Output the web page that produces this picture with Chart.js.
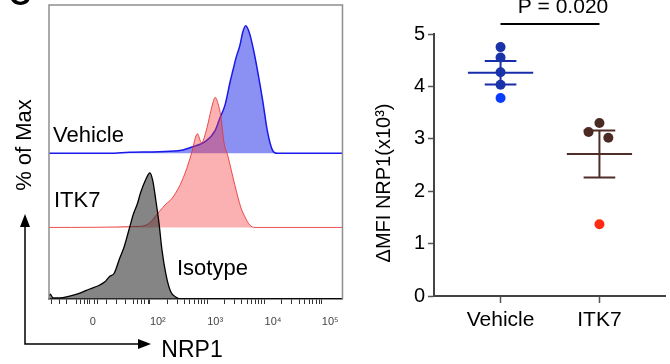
<!DOCTYPE html>
<html>
<head>
<meta charset="utf-8">
<script src="https://cdn.jsdelivr.net/npm/chart.js@4.4.1/dist/chart.umd.min.js"></script>
<style>
    html, body { margin: 0; padding: 0; background: #fff; }
    #wrap { position: relative; width: 670px; height: 364px; overflow: hidden; }
    #histChart { position: absolute; left: 0; top: 0; }
    #dotChart { position: absolute; left: 350px; top: 0; }
</style>
</head>
<body>
<div id="wrap">
    <canvas id="histChart" width="350" height="364"></canvas>
    <canvas id="dotChart" width="320" height="364"></canvas>
</div>
<script>
// HISTOGRAMS (x = NRP1 in decades on the biex axis, y = % of max)
const vehicleHistX = [0.24, 1.30, 1.64, 2.16, 2.55, 2.72, 2.97, 3.14, 3.22, 3.31, 3.40, 3.45, 3.50, 3.57, 3.62, 3.67, 3.74, 3.81, 3.88, 3.97, 4.05, 4.14, 4.22, 5.36];
const vehicleHistY = [0, 0, 0.8, 1.2, 2.3, 4.6, 9.2, 17.7, 27, 37, 55, 64, 73, 83, 93, 98, 92, 79, 63, 40, 17, 2.3, 0, 0];

const itk7HistX = [0.24, 1.81, 1.98, 2.16, 2.28, 2.38, 2.53, 2.64, 2.72, 2.83, 2.90, 2.98, 3.05, 3.10, 3.14, 3.19, 3.24, 3.29, 3.36, 3.48, 3.59, 3.66, 3.74, 3.83, 5.36];
const itk7HistY = [0, 0.8, 3, 12, 18, 22, 33, 45, 56, 72, 65, 74, 87, 96, 100, 95, 85, 66, 55, 33, 15, 8, 2, 0, 0];

const isotypeHistX = [0.24, 0.26, 0.31, 0.43, 0.60, 0.78, 0.95, 1.09, 1.21, 1.29, 1.38, 1.47, 1.55, 1.64, 1.71, 1.78, 1.84, 1.93, 2.00, 2.05, 2.10, 2.16, 2.21, 2.28, 2.36, 2.45, 2.53, 5.36];
const isotypeHistY = [2.3, 3.8, 0.8, 0.8, 2.3, 4.6, 7.7, 10, 13, 17, 20, 31, 40, 54, 65, 73, 82, 92, 97, 91, 77, 58, 38, 19, 6, 1.5, 0, 0];

// vertical offsets of the stacked histograms
const isotypeOffset = 0;
const itk7Offset = 55;
const vehicleOffset = 112;

// x axis ticks of the histogram
const majorTickVals = [0.95, 2, 3, 4, 5];
const majorTickLabels = ['0', '10²', '10³', '10⁴', '10⁵'];
const lowMinorTicks = [0.29, 0.43, 0.55, 0.72, 0.79, 0.86, 0.91, 1.03, 1.09, 1.24, 1.41, 1.57, 1.71, 1.79, 1.86, 1.91, 1.97];

// DOT PLOT (ΔMFI NRP1 x10^3)
const groups = ['Vehicle', 'ITK7'];
const vehicleValues = [4.75, 4.55, 4.27, 4.03, 3.78];
const itk7Values = [3.30, 3.13, 3.02, 1.37];
const itk7Jitter = [0, -0.11, 0.09, 0];
const groupMeans = [4.26, 2.71];
const groupSems = [0.225, 0.45];
const yTicks = [0, 1, 2, 3, 4, 5];
const pValueText = 'P = 0.020';

Chart.defaults.font.family = '"Liberation Sans", Arial, Helvetica, sans-serif';
Chart.defaults.color = '#111';

// ---------- LEFT: histogram overlay ----------

const minorTicks = [];
for (let d = 2; d < 5; d++) {
    for (let k = 2; k <= 9; k++) {
        minorTicks.push(d + Math.log10(k));
    }
}
const allTicks = lowMinorTicks.concat(minorTicks, majorTickVals).sort((a, b) => a - b);

function histDataset(xs, ys, offset, line, fillColor, width) {
    return {
        data: xs.map((x, i) => ({ x: x, y: ys[i] + offset })),
        borderColor: line,
        backgroundColor: fillColor,
        borderWidth: width,
        fill: { value: offset },
        pointRadius: 0,
        cubicInterpolationMode: 'monotone',
    };
}

const histDecor = {
    id: 'histDecor',
    afterDraw(chart) {
        const { ctx, chartArea: a } = chart;
        ctx.save();

        // frame
        ctx.strokeStyle = '#8e8e8e';
        ctx.lineWidth = 1.5;
        ctx.beginPath();
        ctx.moveTo(a.left, a.bottom);
        ctx.lineTo(a.left, a.top);
        ctx.lineTo(a.right, a.top);
        ctx.lineTo(a.right, a.bottom);
        ctx.stroke();

        // sample labels
        ctx.fillStyle = '#000';
        ctx.font = '22px "Liberation Sans", Arial, sans-serif';
        ctx.textBaseline = 'alphabetic';
        ctx.textAlign = 'left';
        ctx.fillText('Vehicle', 53, 142);
        ctx.fillText('ITK7', 54, 207);
        ctx.fillText('Isotype', 177, 275);

        // panel letter, cut by the top edge
        ctx.font = 'bold 30px "Liberation Sans", Arial, sans-serif';
        ctx.fillText('C', 9, 5);

        // axis arrows
        ctx.strokeStyle = '#000';
        ctx.lineWidth = 1.5;
        ctx.beginPath();
        ctx.moveTo(25, 226);
        ctx.lineTo(25, 344);
        ctx.lineTo(140, 344);
        ctx.stroke();
        ctx.beginPath();
        ctx.moveTo(25, 214);
        ctx.lineTo(20, 227);
        ctx.lineTo(30, 227);
        ctx.closePath();
        ctx.moveTo(151, 344);
        ctx.lineTo(138, 339);
        ctx.lineTo(138, 349);
        ctx.closePath();
        ctx.fill();

        ctx.font = '23px "Liberation Sans", Arial, sans-serif';
        ctx.textAlign = 'center';
        ctx.fillText('NRP1', 192, 357);

        ctx.translate(25, 145);
        ctx.rotate(-Math.PI / 2);
        ctx.font = '22px "Liberation Sans", Arial, sans-serif';
        ctx.textBaseline = 'middle';
        ctx.fillText('% of Max', 0, 0);
        ctx.restore();
    }
};

new Chart(document.getElementById('histChart'), {
    type: 'line',
    data: {
        datasets: [
            histDataset(isotypeHistX, isotypeHistY, isotypeOffset, '#000', 'rgba(45,45,45,0.58)', 1.3),
            histDataset(itk7HistX, itk7HistY, itk7Offset, 'rgba(232,50,50,0.85)', 'rgba(245,60,60,0.4)', 1),
            histDataset(vehicleHistX, vehicleHistY, vehicleOffset, 'rgb(25,25,235)', 'rgba(55,65,235,0.58)', 1.5),
        ]
    },
    options: {
        responsive: false,
        animation: false,
        layout: { padding: { left: 49, top: 5, right: 5, bottom: 0 } },
        plugins: { legend: { display: false }, tooltip: { enabled: false } },
        scales: {
            x: {
                type: 'linear',
                bounds: 'data',
                min: 0.24,
                max: 5.36,
                afterBuildTicks: (scale) => {
                    scale.ticks = allTicks.map(v => ({ value: v }));
                },
                afterFit: (scale) => { scale.height = 65; },
                ticks: {
                    autoSkip: false,
                    maxRotation: 0,
                    align: 'start',
                    padding: 11,
                    color: '#444',
                    font: { size: 11 },
                    callback: (value) => {
                        const i = majorTickVals.indexOf(value);
                        return i >= 0 ? majorTickLabels[i] : '';
                    },
                },
                grid: { drawOnChartArea: false, drawTicks: true, tickLength: 5, tickColor: '#333', tickWidth: 1 },
                border: { display: true, color: '#222', width: 1.5 },
            },
            y: {
                display: false,
                min: 0,
                max: 226,
            },
        },
    },
    plugins: [histDecor],
});

// ---------- RIGHT: dot plot with mean ± SEM ----------

const barColors = ['rgb(25,45,170)', 'rgb(80,45,40)'];

const errorBars = {
    id: 'errorBars',
    beforeDatasetsDraw(chart) {
        const { ctx, scales: { x, y } } = chart;
        ctx.save();
        ctx.lineWidth = 2;
        groupMeans.forEach((m, i) => {
            const cx = i + 1;
            const s = groupSems[i];
            ctx.strokeStyle = barColors[i];
            ctx.beginPath();
            ctx.moveTo(x.getPixelForValue(cx - 0.33), y.getPixelForValue(m));
            ctx.lineTo(x.getPixelForValue(cx + 0.33), y.getPixelForValue(m));
            [m - s, m + s].forEach(v => {
                ctx.moveTo(x.getPixelForValue(cx - 0.16), y.getPixelForValue(v));
                ctx.lineTo(x.getPixelForValue(cx + 0.16), y.getPixelForValue(v));
            });
            ctx.moveTo(x.getPixelForValue(cx), y.getPixelForValue(m - s));
            ctx.lineTo(x.getPixelForValue(cx), y.getPixelForValue(m + s));
            ctx.stroke();
        });
        ctx.restore();
    },
    afterDraw(chart) {
        const { ctx, chartArea: a, scales: { x } } = chart;
        ctx.save();

        // significance bar
        const x1 = x.getPixelForValue(1);
        const x2 = x.getPixelForValue(2);
        ctx.strokeStyle = '#000';
        ctx.lineWidth = 2;
        ctx.beginPath();
        ctx.moveTo(x1, a.top - 10);
        ctx.lineTo(x2, a.top - 10);
        ctx.stroke();
        ctx.fillStyle = '#000';
        ctx.font = '21px "Liberation Sans", Arial, sans-serif';
        ctx.textAlign = 'center';
        ctx.textBaseline = 'alphabetic';
        ctx.fillText(pValueText, 213, 13);

        // y title
        ctx.translate(34, 183);
        ctx.rotate(-Math.PI / 2);
        ctx.font = '20px "Liberation Sans", Arial, sans-serif';
        ctx.textBaseline = 'middle';
        ctx.fillText('ΔMFI NRP1(x10³)', 0, 0);
        ctx.restore();
    }
};

new Chart(document.getElementById('dotChart'), {
    type: 'scatter',
    data: {
        datasets: [
            {
                data: vehicleValues.map(v => ({ x: 1, y: v })),
                backgroundColor: ['#1a33a8', '#1a33a8', '#1a33a8', '#1a33a8', '#0a3cff'],
                borderWidth: 0,
                pointRadius: 5,
            },
            {
                data: itk7Values.map((v, i) => ({ x: 2 + itk7Jitter[i], y: v })),
                backgroundColor: ['#4c2a24', '#4c2a24', '#4c2a24', '#ff2a12'],
                borderWidth: 0,
                pointRadius: 5,
            },
        ]
    },
    options: {
        responsive: false,
        animation: false,
        layout: { padding: { left: 0, top: 34, right: 0, bottom: 0 } },
        plugins: { legend: { display: false }, tooltip: { enabled: false } },
        scales: {
            x: {
                type: 'linear',
                bounds: 'data',
                min: 0.327,
                max: 2.663,
                afterBuildTicks: (scale) => {
                    scale.ticks = groups.map((g, i) => ({ value: i + 1 }));
                },
                afterFit: (scale) => { scale.height = 68; },
                ticks: {
                    autoSkip: false,
                    maxRotation: 0,
                    padding: 5,
                    color: '#000',
                    font: { size: 21 },
                    callback: (value) => groups[value - 1] || '',
                },
                grid: { drawOnChartArea: false, drawTicks: true, tickLength: 7, tickColor: '#555', tickWidth: 1.5 },
                border: { display: true, color: '#444', width: 2 },
            },
            y: {
                min: 0,
                max: 5,
                afterBuildTicks: (scale) => {
                    scale.ticks = yTicks.map(v => ({ value: v }));
                },
                afterFit: (scale) => { scale.width = 84; },
                ticks: {
                    padding: 3,
                    color: '#000',
                    font: { size: 20 },
                },
                grid: { drawOnChartArea: false, drawTicks: true, tickLength: 6, tickColor: '#555', tickWidth: 1.5 },
                border: { display: true, color: '#444', width: 2 },
            },
        },
    },
    plugins: [errorBars],
});
</script>
</body>
</html>
